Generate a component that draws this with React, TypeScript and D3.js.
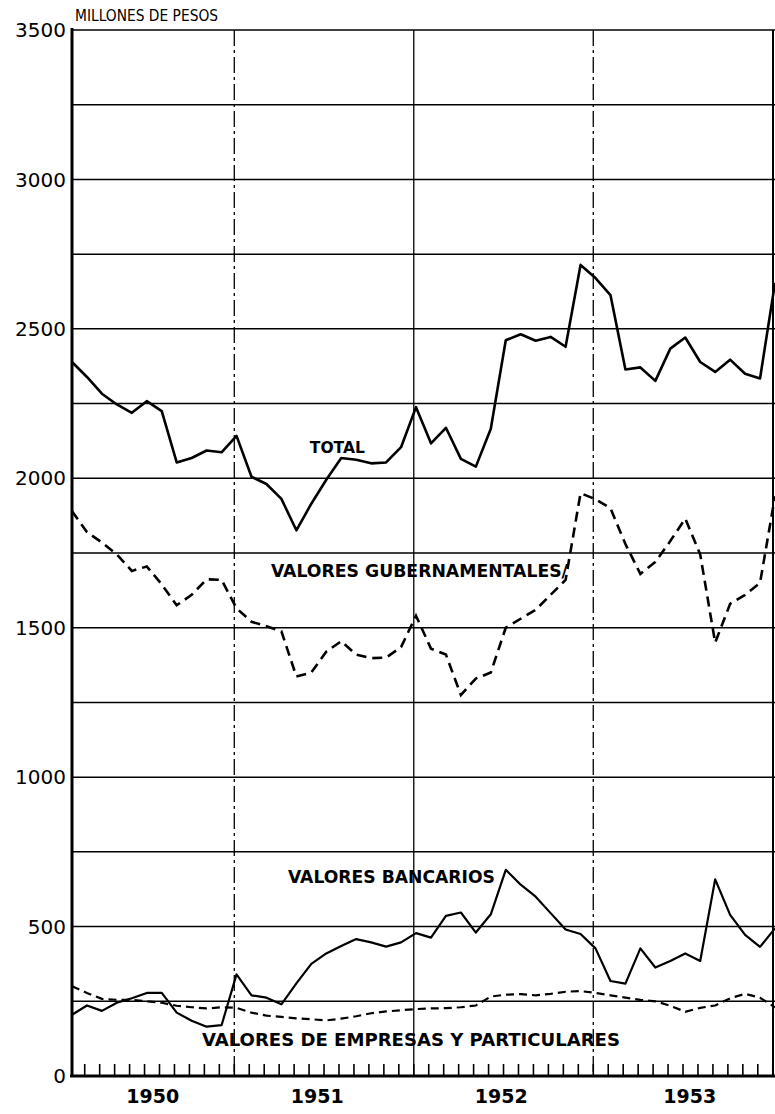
import React from 'react';
import * as d3 from 'd3';

// monthly values, millones de pesos (index 0 = first month shown)
const total = [
  2389, 2339, 2283, 2247, 2219, 2258, 2225, 2053, 2068, 2093, 2087, 2142,
  2005, 1981, 1931, 1826, 1915, 1995, 2068, 2062, 2050, 2053, 2104, 2238,
  2117, 2169, 2065, 2039, 2166, 2462, 2482, 2460, 2473, 2440, 2714, 2670,
  2613, 2364, 2371, 2326, 2434, 2471, 2389, 2356, 2397, 2350, 2334, 2654,
];
const gubernamentales = [
  1890, 1820, 1785, 1745, 1690, 1705, 1645, 1575, 1610, 1662, 1660, 1565,
  1520, 1505, 1488, 1337, 1350, 1420, 1455, 1410, 1398, 1400, 1435, 1540,
  1430, 1410, 1275, 1330, 1350, 1500, 1530, 1560, 1610, 1660, 1950, 1930,
  1900, 1780, 1680, 1720, 1790, 1865, 1745, 1450, 1580, 1610, 1650, 1940,
];
const bancarios = [
  205, 236, 218, 245, 260, 278, 278, 212, 185, 165, 170, 340,
  270, 262, 240, 310, 375, 410, 435, 458, 447, 433, 447, 478,
  463, 536, 547, 480, 541, 690, 640, 600, 545, 490, 475, 427,
  318, 309, 427, 363, 385, 410, 385, 658, 539, 472, 432, 494,
];
const empresas = [
  300, 278, 258, 255, 255, 250, 245, 235, 230, 226, 230, 228,
  212, 202, 198, 193, 190, 186, 192, 200, 210, 216, 220, 224,
  226, 227, 230, 236, 266, 272, 274, 270, 275, 282, 284, 278,
  270, 262, 255, 250, 235, 215, 228, 236, 260, 275, 262, 230,
];

const yLabels = [0, 500, 1000, 1500, 2000, 2500, 3000, 3500];
const gridValues = [250, 500, 750, 1000, 1250, 1500, 1750, 2000, 2250, 2500, 2750, 3000, 3250, 3500];
const years = ['1950', '1951', '1952', '1953'];
const yearLabelAt = [5.4, 16.4, 28.7, 41.3];
const yearLineAt = [10.85, 22.85, 34.85];

const seriesLabels = [
  { text: 'TOTAL', at: 15.9, value: 2084, width: 55, size: 16 },
  { text: 'VALORES GUBERNAMENTALES/', at: 13.3, value: 1669, width: 297, size: 17 },
  { text: 'VALORES BANCARIOS', at: 14.44, value: 646, width: 207, size: 17 },
  { text: 'VALORES DE EMPRESAS Y PARTICULARES', at: 8.69, value: 100, width: 418, size: 18 },
];

const font = '"DejaVu Sans", Verdana, sans-serif';

export default function App() {
  const width = 775;
  const height = 1114;

  const x = d3.scaleLinear().domain([0, total.length - 1]).range([72, 775]);
  const y = d3.scaleLinear().domain([0, 3500]).range([1076, 30]);

  const line = d3.line<number>()
    .x((_, i) => x(i))
    .y(d => y(d));

  const tickIdx = d3.range(0, total.length - 1).map(i => i + 0.85);

  return (
    <div style={{ position: 'absolute', left: 0, top: 0 }}>
      <svg width={width} height={height} style={{ background: '#fff', display: 'block' }}>
        {/* horizontal grid */}
        {gridValues.map(v => (
          <line key={v} x1={x(0)} x2={width} y1={y(v)} y2={y(v)} stroke="#000" strokeWidth={1.5} />
        ))}

        {/* year separators */}
        {yearLineAt.map((k, i) => (
          <line key={k} x1={x(k)} x2={x(k)} y1={y(3500)} y2={y(0)}
            stroke="#000" strokeWidth={1.3}
            strokeDasharray={i === 1 ? undefined : '16 4 3 4'} />
        ))}

        {/* frame */}
        <line x1={x(0)} x2={x(0)} y1={y(3500) - 2} y2={y(0) + 1} stroke="#000" strokeWidth={3} />
        <line x1={773} x2={773} y1={y(3500)} y2={y(0)} stroke="#000" strokeWidth={2} />
        <line x1={x(0) - 2} x2={width} y1={y(0)} y2={y(0)} stroke="#000" strokeWidth={3} />

        {/* month ticks */}
        {tickIdx.map(k => (
          <line key={k} x1={x(k)} x2={x(k)} y1={y(0)} y2={y(0) - 12} stroke="#000" strokeWidth={1.6} />
        ))}

        {/* series */}
        <path d={line(total) ?? ''} fill="none" stroke="#000" strokeWidth={2.6} strokeLinejoin="round" />
        <path d={line(gubernamentales) ?? ''} fill="none" stroke="#000" strokeWidth={2.6} strokeDasharray="10 6" />
        <path d={line(bancarios) ?? ''} fill="none" stroke="#000" strokeWidth={2.2} strokeLinejoin="round" />
        <path d={line(empresas) ?? ''} fill="none" stroke="#000" strokeWidth={2.2} strokeDasharray="8 5" />

        {/* y axis labels */}
        {yLabels.map(v => (
          <text key={v} x={66} y={y(v)} dy="0.36em" textAnchor="end"
            fontFamily={font} fontSize={20} fill="#000">{v}</text>
        ))}

        <text x={75} y={21} fontFamily={font} fontSize={15} textLength={143}
          lengthAdjust="spacingAndGlyphs" fill="#000">MILLONES DE PESOS</text>

        {/* year labels */}
        {years.map((yr, i) => (
          <text key={yr} x={x(yearLabelAt[i])} y={1103} textAnchor="middle"
            fontFamily={font} fontSize={19} fontWeight="bold" fill="#000">{yr}</text>
        ))}

        {/* series labels */}
        {seriesLabels.map(s => (
          <text key={s.text} x={x(s.at)} y={y(s.value)} fontFamily={font} fontSize={s.size}
            fontWeight="bold" textLength={s.width} lengthAdjust="spacingAndGlyphs"
            fill="#000">{s.text}</text>
        ))}
      </svg>
    </div>
  );
}
